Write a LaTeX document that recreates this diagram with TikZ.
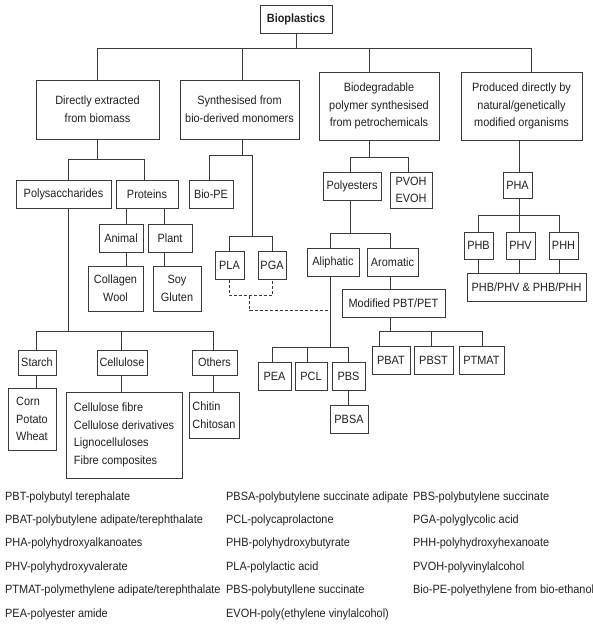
\documentclass[tikz,border=0pt]{standalone}
\usepackage{fontspec}
\setmainfont{Liberation Sans}[FakeStretch=0.91]
\usetikzlibrary{calc}
\definecolor{ink}{HTML}{222222}
\definecolor{wire}{HTML}{3A3A3A}
\begin{document}
\begin{tikzpicture}[x=1pt,y=-1pt,
  bx/.style={draw=wire,line width=1pt,inner sep=0pt,align=center,text=ink,
     font=\fontsize{12}{17.6}\selectfont},
  lbx/.style={bx,align=left},
  ln/.style={draw=wire,line width=0.9pt},
  dsh/.style={draw=wire,line width=0.9pt,dash pattern=on 3pt off 2pt},
  lg/.style={anchor=west,inner sep=0pt,text=ink,font=\fontsize{12}{14}\selectfont}]
\useasboundingbox[fill=white] (0,0) rectangle (593,625);

% level 0
\node[bx,minimum width=72pt,minimum height=28pt,font=\fontsize{12}{14}\selectfont\bfseries] (bio) at (296,19) {Bioplastics};
% level 1
\node[bx,minimum width=123pt,minimum height=59pt] (dir) at (97.5,109.5) {Directly extracted\\from biomass};
\node[bx,minimum width=119pt,minimum height=59pt] (syn) at (239.5,109.5) {Synthesised from\\bio-derived monomers};
\node[bx,minimum width=120pt,minimum height=68pt] (bdp) at (379,106) {Biodegradable\\polymer synthesised\\from petrochemicals};
\node[bx,minimum width=121pt,minimum height=68pt] (prd) at (521.5,106) {Produced directly by\\natural/genetically\\modified organisms};

% directly extracted branch
\node[bx,minimum width=95pt,minimum height=28pt] (pol) at (63.5,194) {Polysaccharides};
\node[bx,minimum width=62pt,minimum height=28pt] (pro) at (147,194) {Proteins};
\node[bx,minimum width=44pt,minimum height=28pt] (ani) at (121,238) {Animal};
\node[bx,minimum width=44pt,minimum height=28pt] (plt) at (170,238) {Plant};
\node[bx,minimum width=55pt,minimum height=45pt] (col) at (115.5,288.5) {Collagen\\Wool};
\node[bx,minimum width=48pt,minimum height=45pt] (soy) at (177,288.5) {Soy\\Gluten};
\node[bx,minimum width=38pt,minimum height=25pt] (sta) at (37,362.5) {Starch};
\node[bx,minimum width=50pt,minimum height=25pt] (cel) at (122,362.5) {Cellulose};
\node[bx,minimum width=45pt,minimum height=25pt] (oth) at (214.5,362.5) {Others};
\node[lbx,minimum width=48pt,minimum height=62pt] (crn) at (32,419) {Corn\\Potato\\Wheat};
\node[lbx,minimum width=116pt,minimum height=86pt] (cls) at (124,435) {Cellulose fibre\\Cellulose derivatives\\Lignocelluloses\\Fibre composites};
\node[lbx,minimum width=50pt,minimum height=46pt] (chi) at (214,415) {Chitin\\Chitosan};

% synthesised branch
\node[bx,minimum width=44pt,minimum height=28pt] (bpe) at (211,194) {Bio-PE};
\node[bx,minimum width=29pt,minimum height=28pt] (pla) at (229.5,265) {PLA};
\node[bx,minimum width=28pt,minimum height=28pt] (pga) at (272,265) {PGA};

% petrochemical branch
\node[bx,minimum width=58pt,minimum height=28pt] (pes) at (352,186) {Polyesters};
\node[bx,minimum width=42pt,minimum height=36pt,font=\fontsize{12}{17}\selectfont] (pvo) at (411,190) {PVOH\\EVOH};
\node[bx,minimum width=52pt,minimum height=28pt] (ali) at (333,262) {Aliphatic};
\node[bx,minimum width=51pt,minimum height=28pt] (aro) at (392.5,262) {Aromatic};
\node[bx,minimum width=103pt,minimum height=28pt] (mod) at (393.5,303) {Modified PBT/PET};
\node[bx,minimum width=38pt,minimum height=28pt] (pbat) at (391,360) {PBAT};
\node[bx,minimum width=39pt,minimum height=28pt] (pbst) at (433.5,360) {PBST};
\node[bx,minimum width=45pt,minimum height=28pt] (ptm) at (481.5,360) {PTMAT};
\node[bx,minimum width=33pt,minimum height=28pt] (pea) at (274.5,376) {PEA};
\node[bx,minimum width=32pt,minimum height=28pt] (pcl) at (311,376) {PCL};
\node[bx,minimum width=33pt,minimum height=28pt] (pbs) at (348.5,376) {PBS};
\node[bx,minimum width=38pt,minimum height=28pt] (pbsa) at (349,419) {PBSA};

% organisms branch
\node[bx,minimum width=29pt,minimum height=26pt] (pha) at (517.5,185) {PHA};
\node[bx,minimum width=29pt,minimum height=27pt] (phb) at (478.5,245.5) {PHB};
\node[bx,minimum width=29pt,minimum height=27pt] (phv) at (520.5,245.5) {PHV};
\node[bx,minimum width=29pt,minimum height=27pt] (phh) at (563.5,245.5) {PHH};
\node[bx,minimum width=119pt,minimum height=28pt] (mix) at (526.5,287) {PHB/PHV \& PHB/PHH};

% connectors: top bus
\draw[ln] (bio.south) -- ++(0,15) coordinate (bus);
\draw[ln] ([xshift=-0.5pt]dir.north) |- (bus);
\draw[ln] ([xshift=2.5pt]syn.north) |- (bus);
\draw[ln] ([xshift=-10pt]bdp.north) |- (bus);
\draw[ln] ([xshift=9.5pt]prd.north) |- (bus);

% directly extracted
\draw[ln] ([xshift=-0.5pt]dir.south) -- ++(0,20) coordinate (j1);
\draw[ln] ([xshift=4.5pt]pol.north) |- (j1);
\draw[ln] ([xshift=-3pt]pro.north) |- (j1);
\draw[ln] ([xshift=-21pt]pro.south) -- ([xshift=5pt]ani.north);
\draw[ln] ([xshift=17pt]pro.south) -- ([xshift=-6pt]plt.north);
\draw[ln] ([xshift=5pt]ani.south) -- ([xshift=10.5pt]col.north);
\draw[ln] ([xshift=-6pt]plt.south) -- ([xshift=-13pt]soy.north);
\draw[ln] ([xshift=4.5pt]pol.south) -- ++(0,123) coordinate (j10);
\draw[ln] ([xshift=-1pt]sta.north) |- (j10);
\draw[ln] ([xshift=-1pt]cel.north) |- (j10);
\draw[ln] ([xshift=-1.5pt]oth.north) |- (j10);
\draw[ln] ([xshift=-1pt]sta.south) -- ([xshift=4pt]crn.north);
\draw[ln] ([xshift=-1pt]cel.south) -- ([xshift=-3pt]cls.north);
\draw[ln] ([xshift=-1.5pt]oth.south) -- ([xshift=-1pt]chi.north);

% synthesised
\draw[ln] ([xshift=2.5pt]syn.south) -- ++(0,16) coordinate (j2);
\draw[ln] ([xshift=-2pt]bpe.north) |- (j2);
\draw[ln] (j2) -| ++(10,81) coordinate (j3);
\draw[ln] (pla.north) |- (j3);
\draw[ln] (pga.north) |- (j3);
\draw[dsh] (pla.south) -- ++(0,16) coordinate (d1) -| (pga.south);
\coordinate (d2) at ($(d1)+(20,0)$);
\coordinate (j4) at ([xshift=-3pt]ali.south);
\draw[dsh] (d2) |- ($(j4)+(0,34)$);

% petrochemicals
\draw[ln] ([xshift=-10pt]bdp.south) -- ++(0,17) coordinate (j5);
\draw[ln] ([xshift=-2pt]pes.north) |- (j5);
\draw[ln] ([xshift=-3pt]pvo.north) |- (j5);
\draw[ln] ([xshift=-2pt]pes.south) -- ++(0,33) coordinate (j6);
\draw[ln] ([xshift=-3pt]ali.north) |- (j6);
\draw[ln] ([xshift=-2.5pt]aro.north) |- (j6);
\draw[ln] ([xshift=-2.5pt]aro.south) -- ([xshift=-3.5pt]mod.north);
\draw[ln] ([xshift=-3.5pt]mod.south) -- ++(0,14) coordinate (j7);
\draw[ln] ([xshift=-12pt]pbat.north) |- (j7);
\draw[ln] ([xshift=-2.5pt]pbst.north) |- (j7);
\draw[ln] ([xshift=0.5pt]ptm.north) |- (j7);
\draw[ln] (j4) -- ++(0,71) coordinate (j8);
\draw[ln] ([xshift=-2.5pt]pea.north) |- (j8);
\draw[ln] ([xshift=-4pt]pcl.north) |- (j8);
\draw[ln] (pbs.north) |- (j8);
\draw[ln] (pbs.south) -- (pbs.south |- pbsa.north);

% organisms
\draw[ln] ([xshift=-2.5pt]prd.south) -- ([xshift=1.5pt]pha.north);
\draw[ln] ([xshift=1.5pt]pha.south) -- ++(0,17) coordinate (j9);
\draw[ln] (phb.north) |- (j9);
\draw[ln] ([xshift=-1.5pt]phv.north) |- (j9);
\draw[ln] ([xshift=-4.5pt]phh.north) |- (j9);
\draw[ln] (phb.south) -- (phb.south |- mix.north);
\draw[ln] ([xshift=-1.5pt]phv.south) -- ([xshift=-1.5pt]phv.south |- mix.north);
\draw[ln] ([xshift=-4.5pt]phh.south) -- ([xshift=-4.5pt]phh.south |- mix.north);

% legend
\node[lg] (l1) at (5,497) {PBT-polybutyl terephalate};
\node[lg] (l2) at (5,520.4) {PBAT-polybutylene adipate/terephthalate};
\node[lg] (l3) at (5,543.8) {PHA-polyhydroxyalkanoates};
\node[lg] (l4) at (5,567.2) {PHV-polyhydroxyvalerate};
\node[lg] (l5) at (5,590.6) {PTMAT-polymethylene adipate/terephthalate};
\node[lg] (l6) at (5,614) {PEA-polyester amide};
\node[lg] (m1) at (226,497) {PBSA-polybutylene succinate adipate};
\node[lg] (m2) at (226,520.4) {PCL-polycaprolactone};
\node[lg] (m3) at (226,543.8) {PHB-polyhydroxybutyrate};
\node[lg] (m4) at (226,567.2) {PLA-polylactic acid};
\node[lg] (m5) at (226,590.6) {PBS-polybutyllene succinate};
\node[lg] (m6) at (226,614) {EVOH-poly(ethylene vinylalcohol)};
\node[lg] (r1) at (413,497) {PBS-polybutylene succinate};
\node[lg] (r2) at (413,520.4) {PGA-polyglycolic acid};
\node[lg] (r3) at (413,543.8) {PHH-polyhydroxyhexanoate};
\node[lg] (r4) at (413,567.2) {PVOH-polyvinylalcohol};
\node[lg] (r5) at (413,590.6) {Bio-PE-polyethylene from bio-ethanol};
\end{tikzpicture}
\end{document}
